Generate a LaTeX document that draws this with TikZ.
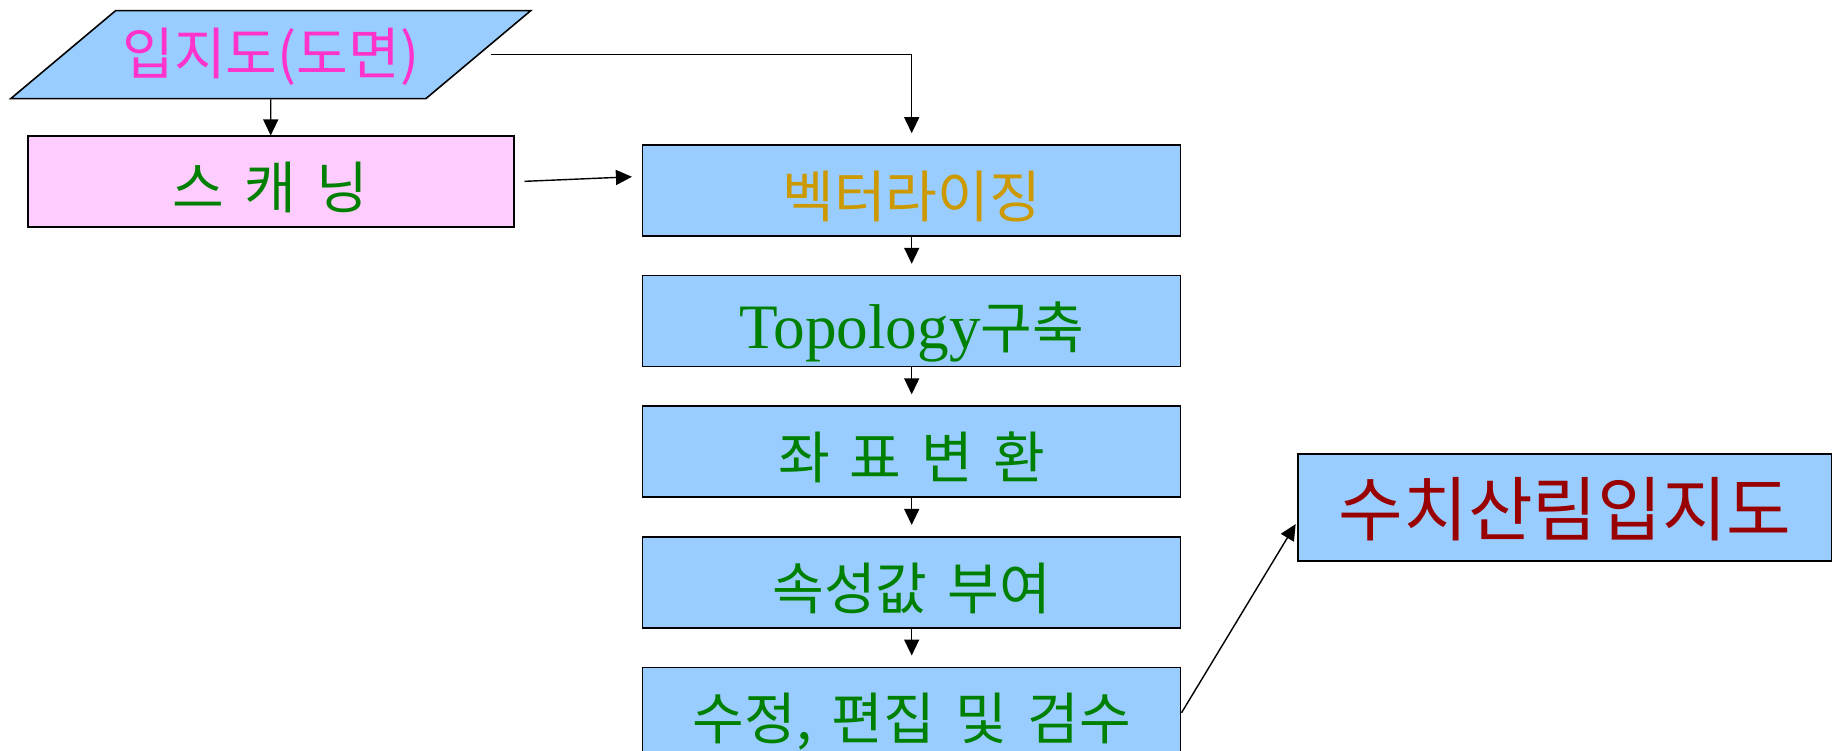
\documentclass[tikz,border=0pt]{standalone}
\usepackage{fontspec}
\setmainfont{Liberation Serif}
\newfontfamily\kr[WordSpace=1.6]{Noto Sans CJK KR}
\usetikzlibrary{arrows.meta,positioning,shapes.geometric}
\definecolor{boxblue}{HTML}{99CCFF}
\definecolor{boxpink}{HTML}{FFCCFF}
\definecolor{txtgreen}{HTML}{008000}
\definecolor{txtpink}{HTML}{FF33CC}
\definecolor{txtgold}{HTML}{CC9900}
\definecolor{txtred}{HTML}{990000}
\begin{document}
\begin{tikzpicture}[
    box/.style={draw,line width=0.45pt,fill=boxblue,minimum width=5.38cm,minimum height=0.91cm,
      inner sep=0pt,text height=0.6cm,text depth=0.06cm,text=txtgreen,font=\kr\fontsize{16}{19}\selectfont},
    link/.style={line width=0.4pt,-{Triangle[length=0.16cm,width=0.15cm]}},
    node distance=0.38cm]
    \useasboundingbox (0,0) rectangle (18.32,7.51);

    \node[box,trapezium,trapezium left angle=40,trapezium right angle=140,trapezium stretches body,
      minimum width=5.2cm,minimum height=0pt,text height=0.64cm,text depth=0.24cm,text=txtpink]
      (map) at (2.707,6.963) {입지도(도면)};
    \node[box,below=0.36cm of map,fill=boxpink,minimum width=4.86cm] (scan) {스 캐 닝};
    \node[box,text=txtgold] (vector) at (9.117,5.605) {벡터라이징};
    \node[box,below=of vector] (topo) {{\rmfamily\fontsize{18}{21}\selectfont Topology}구축};
    \node[box,below=of topo] (coord) {좌 표 변 환};
    \node[box,below=of coord] (attr) {속성값 부여};
    \node[box,below=of attr] (edit) {수정, 편집 및 검수};
    \node[box,minimum width=5.34cm,minimum height=1.07cm,text height=0.64cm,text depth=0.08cm,
      text=txtred,font=\kr\fontsize{20}{24}\selectfont] (final) at (15.65,2.435) {수치산림입지도};

    \draw[link] (map) -- (scan);
    \draw[link,shorten <=0.12cm,shorten >=0.11cm] (map.east) -| (vector.north);
    \draw[link,shorten <=0.1cm,shorten >=0.1cm] (scan.east) -- (vector.177);
    \draw[link,shorten >=0.11cm] (vector) -- (topo);
    \draw[link,shorten >=0.11cm] (topo) -- (coord);
    \draw[link,shorten >=0.11cm] (coord) -- (attr);
    \draw[link,shorten >=0.11cm] (attr) -- (edit);
    \draw[link,shorten >=0.03cm] (edit.east) -- (final.183);
\end{tikzpicture}
\end{document}
